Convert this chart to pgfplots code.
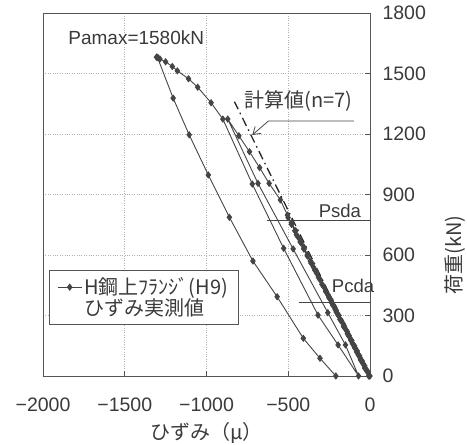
\documentclass[border=0pt]{standalone}
\usepackage{fontspec}
\setmainfont{Liberation Sans}
\newfontfamily\jp{Noto Sans CJK JP}
\usepackage{pgfplots}
\pgfplotsset{compat=1.18}
\usetikzlibrary{arrows.meta}
\definecolor{ink}{HTML}{3A3A3A}
\definecolor{axisgray}{HTML}{555555}
\definecolor{gridgray}{HTML}{B0B0B0}
\definecolor{dataline}{HTML}{454545}

\begin{document}
\begin{tikzpicture}[x=1pt,y=1pt]
\useasboundingbox (0,0) rectangle (467,445);
\begin{axis}[
  at={(43pt,69pt)}, anchor=south west,
  scale only axis, width=327pt, height=363pt,
  xmin=-2000, xmax=0, ymin=0, ymax=1800,
  xtick={-2000,-1500,-1000,-500,0},
  xticklabels={−2000,−1500,−1000,−500,0},
  ytick={0,300,600,900,1200,1500,1800},
  xtick pos=left, xticklabel pos=left,
  ytick pos=right, yticklabel pos=right,
  tick align=inside, major tick length=5pt,
  axis line style={axisgray, line width=0.9pt},
  tick style={axisgray, line width=0.8pt},
  grid=major, grid style={gridgray, dotted, line width=0.8pt},
  ticklabel style={font=\fontsize{19.5}{22}\selectfont, text=ink},
  /pgf/number format/assume math mode=true,
  /pgf/number format/1000 sep={},
  xticklabel style={yshift=-18pt},
  yticklabel style={xshift=9pt},
  clip=false,
  legend style={at={(0.018,0.292)}, anchor=north west,
    draw=axisgray, line width=0.8pt, fill=white, text=ink,
    font=\jp\fontsize{20}{22}\selectfont,
    inner xsep=8pt, inner ysep=5.5pt, row sep=-2pt,
    cells={anchor=west}},
  legend image code/.code={\draw[mark repeat=2, mark phase=2, #1]
    plot coordinates {(0pt,0pt) (12pt,0pt) (24pt,0pt)};},
]

% calculated line (n=7)
\addplot[forget plot, black!85, line width=1.3pt,
  dash pattern=on 9pt off 4pt on 1.6pt off 4pt]
  coordinates {(0,0) (-829,1360)};

% measured strain of the upper flange, H9
\addplot[dataline, line width=0.9pt, mark=diamond*, mark size=3pt,
  mark options={solid, fill=dataline}]
  coordinates {
  % first cycle, up to about Pcda
  (0,0) (-16,25) (-32,50) (-48,75) (-64,100) (-79,125) (-95,150) (-111,175)
  (-127,200) (-143,225) (-159,250) (-175,275) (-191,300) (-206,325)
  (-222,350) (-238,375) (-254,400)
  (-240,380) (-215,340) (-190,300) (-165,260) (-140,220) (-116,180)
  (-91,140) (-66,100) (-41,60) (-16,20) (-5,0)
  % second cycle, up to about Psda
  (-22,30) (-41,60) (-60,90) (-79,120) (-98,150) (-117,180) (-136,210)
  (-155,240) (-174,270) (-194,300) (-213,330) (-232,360) (-251,390)
  (-270,420) (-289,450) (-308,480) (-327,510) (-346,540) (-365,570)
  (-384,600) (-403,630) (-422,660) (-441,690) (-460,720) (-481,753)
  (-501,785)
  (-479,760) (-454,720) (-430,680) (-405,640) (-380,600) (-355,560)
  (-330,520) (-306,480) (-281,440) (-256,400) (-231,360) (-206,320)
  (-182,280) (-157,240) (-132,200) (-107,160) (-82,120) (-58,80)
  (-33,40) (-8,0)
  % third cycle, up to 1274 kN
  (-27,35) (-49,70) (-72,105) (-94,140) (-116,175) (-138,210) (-161,245)
  (-183,280) (-205,315) (-227,350) (-249,385) (-272,420) (-294,455)
  (-316,490) (-338,525) (-361,560) (-383,595) (-405,630) (-427,665)
  (-450,700) (-479,753) (-505,798) (-548,873) (-617,955) (-675,1033)
  (-737,1112) (-802,1191) (-870,1274)
  (-685,955) (-470,630) (-258,314) (-150,154) (-70,0)
  (-195,154) (-318,302) (-528,633) (-720,952) (-900,1274)
  % loading to the maximum
  (-972,1355) (-1054,1432) (-1110,1474) (-1178,1513) (-1209,1535)
  (-1250,1558) (-1285,1572) (-1306,1581) (-1296,1578) (-1300,1580)
  % unloading from the maximum
  (-1204,1378) (-1106,1196) (-989,997) (-860,787) (-716,570)
  (-568,393) (-408,187) (-306,88) (-209,0)
  };
\addlegendentry{H鋼上ﾌﾗﾝｼﾞ(H9)}
\addlegendimage{empty legend}
\addlegendentry{ひずみ実測値}

% design load levels
\draw[dataline, line width=0.9pt] (axis cs:-633,773) -- (axis cs:0,773);
\draw[dataline, line width=0.9pt] (axis cs:-432,367) -- (axis cs:0,367);
\node[anchor=base west, inner sep=0pt, text=ink, font=\fontsize{18.5}{20}\selectfont]
  at (axis cs:-314,788) {Psda};
\node[anchor=base west, inner sep=0pt, text=ink, font=\fontsize{18.5}{20}\selectfont]
  at (axis cs:-234,413) {Pcda};

% annotations
\node[anchor=base west, inner sep=0pt, text=ink, font=\fontsize{19}{22}\selectfont]
  at (axis cs:-1846,1646) {Pamax=1580kN};
\node[anchor=base west, inner sep=0pt, text=ink, font=\jp\fontsize{20}{22}\selectfont]
  at (axis cs:-769,1329) {計算値(n=7)};
\draw[dataline, line width=0.8pt, -{Straight Barb[length=7pt,width=9pt]}]
  (axis cs:-98,1264) -- (axis cs:-622,1264) -- (axis cs:-720,1195);

% axis titles
\node[text=ink, font=\jp\fontsize{20}{22}\selectfont]
  at (axis description cs:0.5,-0.157) {ひずみ（μ）};
\node[text=ink, font=\jp\fontsize{20}{22}\selectfont, rotate=90]
  at (axis description cs:1.26,0.333) {荷重(kN)};
\end{axis}
\end{tikzpicture}
\end{document}
